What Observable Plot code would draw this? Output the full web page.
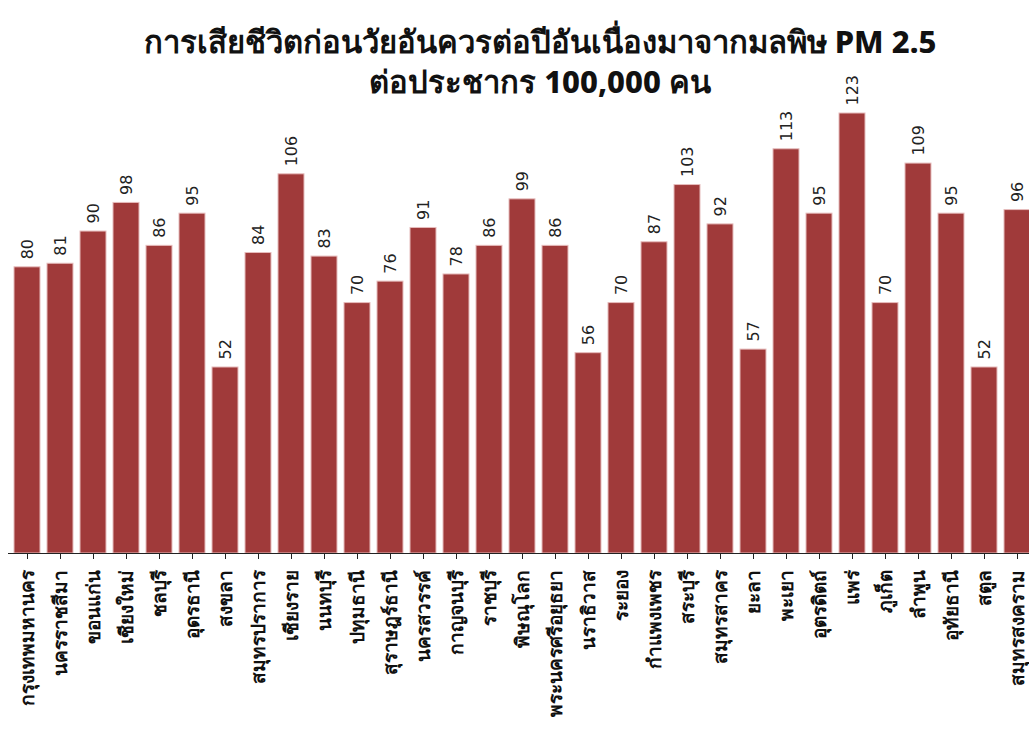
<!DOCTYPE html>
<html>
<head>
<meta charset="utf-8">
<script src="https://cdn.jsdelivr.net/npm/d3@7"></script>
<script src="https://cdn.jsdelivr.net/npm/@observablehq/plot@0.6"></script>
<style>
  html, body { margin: 0; padding: 0; background: #fff; overflow: hidden; width: 1029px; height: 736px; }
  #title { height: 60px; position: relative; }
  #title div { position: absolute; left: 0; width: 1080px; text-align: center; font-family: "Noto Sans", "DejaVu Sans", sans-serif; font-weight: 800; font-size: 31px; color: #111; }
  #chart svg { overflow: visible; display: block; max-width: none !important; }
</style>
</head>
<body>
<div id="title">
  <div style="top: 17px;">การเสียชีวิตก่อนวัยอันควรต่อปีอันเนื่องมาจากมลพิษ PM 2.5</div>
  <div style="top: 57px;">ต่อประชากร 100,000 คน</div>
</div>
<div id="chart"></div>
<script>
const provinces = ["กรุงเทพมหานคร","นครราชสีมา","ขอนแก่น","เชียงใหม่","ชลบุรี","อุดรธานี","สงขลา","สมุทรปราการ","เชียงราย","นนทบุรี","ปทุมธานี","สุราษฎร์ธานี","นครสวรรค์","กาญจนบุรี","ราชบุรี","พิษณุโลก","พระนครศรีอยุธยา","นราธิวาส","ระยอง","กำแพงเพชร","สระบุรี","สมุทรสาคร","ยะลา","พะเยา","อุตรดิตถ์","แพร่","ภูเก็ต","ลำพูน","อุทัยธานี","สตูล","สมุทรสงคราม"];
const deaths = [80,81,90,98,86,95,52,84,106,83,70,76,91,78,86,99,86,56,70,87,103,92,57,113,95,123,70,109,95,52,96];

const data = provinces.map((p, i) => ({province: p, value: deaths[i]}));

const chart = Plot.plot({
  width: 1040,
  height: 676,
  marginLeft: 8,
  marginRight: 3,
  marginTop: 53,
  marginBottom: 183,
  x: { domain: provinces, paddingInner: 0.2, paddingOuter: 0.1, label: null },
  y: { domain: [0, 123], axis: null },
  style: { fontFamily: "Noto Sans, DejaVu Sans, sans-serif", background: "transparent" },
  marks: [
    Plot.barY(data, { x: "province", y: "value", fill: "#a03a3a", stroke: "#e6bcbc", strokeWidth: 1 }),
    Plot.text(data, { x: "province", y: "value", text: d => String(d.value), rotate: -90, textAnchor: "start", lineAnchor: "middle", dy: -8, fontSize: 16, fill: "#222", fontFamily: "DejaVu Sans" }),
    Plot.ruleY([0], { stroke: "#222", strokeWidth: 1.2 }),
    Plot.axisX({ tickRotate: -90, tickSize: 6, tickPadding: 10, fontSize: 19, fontWeight: 600, fill: "#111", stroke: "#222", label: null, textAnchor: "end" })
  ]
});
document.getElementById("chart").appendChild(chart);
</script>
</body>
</html>
